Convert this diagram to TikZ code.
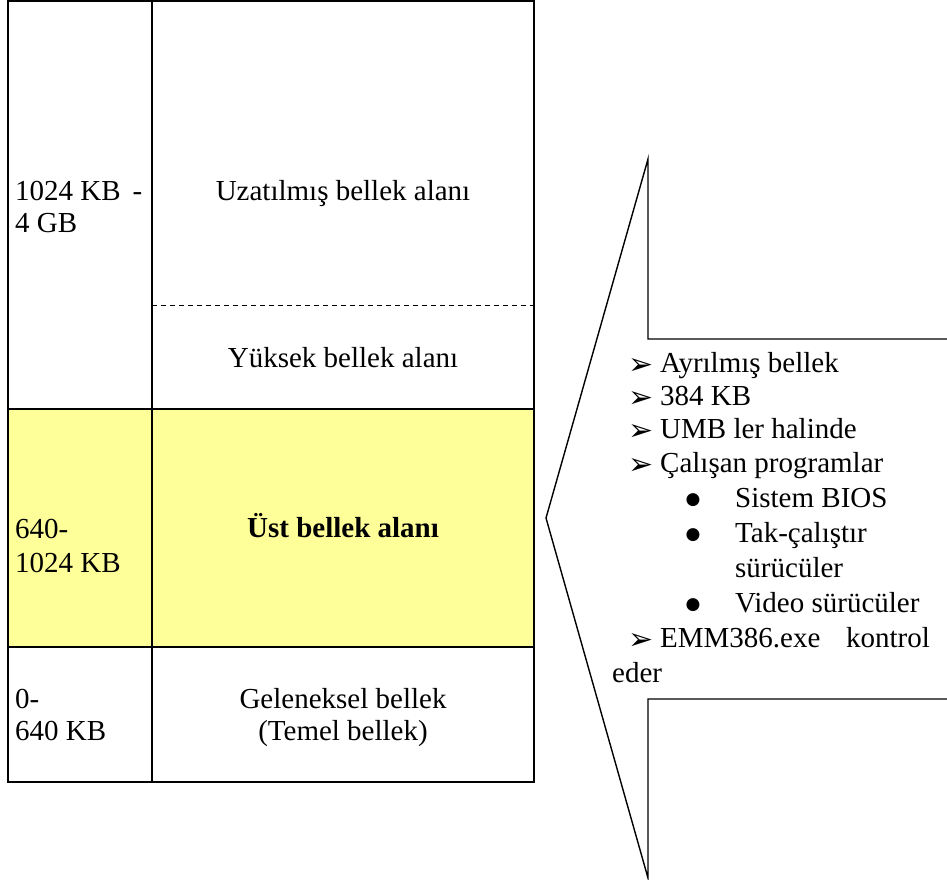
\documentclass[tikz,border=0pt]{standalone}
\usepackage{fontspec}
\setmainfont{Liberation Serif}
\newfontfamily\dingfont{DejaVu Sans}
\definecolor{umbyellow}{RGB}{255,255,153}
\begin{document}
\begin{tikzpicture}[x=1pt,y=-1pt,
  tline/.style={line width=2pt},
  sepline/.style={line width=1.6pt, dash pattern=on 5pt off 4pt},
  cline/.style={line width=1.4pt, line join=miter},
  txt/.style={inner sep=0pt, font=\fontsize{29}{33}\selectfont},
  lefttxt/.style={txt, anchor=base west},
  midtxt/.style={txt, anchor=base},
  arr/.style={inner sep=0pt, anchor=base west, font=\dingfont\fontsize{30}{34}\selectfont},
  dot/.style={inner sep=0pt, anchor=center, font=\dingfont\fontsize{17}{19}\selectfont}]
\useasboundingbox (0,0) rectangle (947,879);

% memory map table
\fill[umbyellow] (8,409) rectangle (534,647);
\draw[tline] (8,1) rectangle (534,782);
\draw[tline] (152,1) -- (152,782);
\draw[tline] (8,409) -- (534,409);
\draw[tline] (8,647) -- (534,647);
\draw[sepline] (152,305.5) -- (534,305.5);

% range labels
\node[lefttxt] (ext1) at (15,200) {\makebox[127pt][l]{1024 KB\hfill-}};
\node[lefttxt] (ext2) at (15,232) {4 GB};
\node[lefttxt] (upp1) at (15,538) {640-};
\node[lefttxt] (upp2) at (15,572) {1024 KB};
\node[lefttxt] (con1) at (15,708) {0-};
\node[lefttxt] (con2) at (15,740) {640 KB};

% area names
\node[midtxt] (ext) at (343,200) {Uzatılmış bellek alanı};
\node[midtxt] (hma) at (343,367) {Yüksek bellek alanı};
\node[midtxt, font=\fontsize{29}{33}\selectfont\bfseries] (umb) at (343,537) {Üst bellek alanı};
\node[midtxt] (conv1) at (343,708) {Geleneksel bellek};
\node[midtxt] (conv2) at (343,740) {(Temel bellek)};

% callout
\draw[cline] (960,339) -- (648,339) -- (648,159) -- (546,518) -- (648,878)
  -- (648,699) -- (960,699);

% callout list
\node[arr] (a1) at (628,374) {➢};
\node[lefttxt] (t1) at (660,372) {Ayrılmış bellek};
\node[arr] (a2) at (628,407) {➢};
\node[lefttxt] (t2) at (660,405) {384 KB};
\node[arr] (a3) at (628,440) {➢};
\node[lefttxt] (t3) at (660,438) {UMB ler halinde};
\node[arr] (a4) at (628,474) {➢};
\node[lefttxt] (t4) at (660,472) {Çalışan programlar};
\node[dot] (b1) at (693,500) {●};
\node[lefttxt] (s1) at (735,507) {Sistem BIOS};
\node[dot] (b2) at (693,535) {●};
\node[lefttxt] (s2) at (735,542) {Tak-çalıştır};
\node[lefttxt] (s2b) at (735,577) {sürücüler};
\node[dot] (b3) at (693,605) {●};
\node[lefttxt] (s3) at (735,612) {Video sürücüler};
\node[arr] (a5) at (628,649) {➢};
\node[lefttxt] (t5) at (660,647) {EMM386.exe};
\node[txt, anchor=base east] (t5b) at (930,647) {kontrol};
\node[lefttxt] (t5c) at (612,682) {eder};
\end{tikzpicture}
\end{document}
